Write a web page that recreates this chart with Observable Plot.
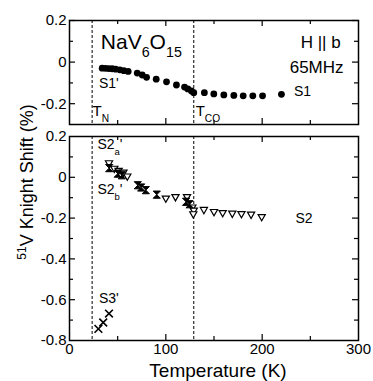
<!DOCTYPE html>
<html><head><meta charset="utf-8">
<script src="https://cdn.jsdelivr.net/npm/d3@7"></script>
<script src="https://cdn.jsdelivr.net/npm/@observablehq/plot@0.6"></script>
<style>
body{margin:0;background:#fff;}
#wrap{position:relative;width:373px;height:381px;font-family:"Liberation Sans",Arial,sans-serif;}
#topPanel{position:absolute;left:0;top:0;}
#botPanel{position:absolute;left:0;top:126px;}
#ylab{position:absolute;left:0;top:0;pointer-events:none;}
</style></head>
<body>
<div id="wrap"><div id="topPanel"></div><div id="botPanel"></div>
<svg id="ylab" width="373" height="381"><text transform="translate(33,182) rotate(-90)" text-anchor="middle" font-size="18" font-family="Liberation Sans, Arial, sans-serif" fill="#000"><tspan font-size="12" baseline-shift="super">51</tspan>V Knight Shift (%)</text></svg>
</div>
<script>
// ---- data ----
const s1T = [33.9, 37.4, 40.8, 44.3, 47.8, 52.2, 56.4, 60.9, 70.3, 75.5, 80, 90, 100.7, 111, 119.4, 122.8, 126.6, 129, 140, 149.8, 160.2, 170.6, 180.3, 190.3, 200.4, 220];
const s1V = [-0.029, -0.030, -0.031, -0.032, -0.034, -0.037, -0.041, -0.045, -0.053, -0.062, -0.073, -0.082, -0.095, -0.110, -0.120, -0.129, -0.139, -0.147, -0.147, -0.153, -0.158, -0.160, -0.162, -0.162, -0.162, -0.155];
const s2aT = [41, 46.5, 51, 56, 60, 100, 110, 122, 127.5, 129, 128.5, 139.5, 150, 159, 169, 178.5, 188.5, 199.5];
const s2aV = [0.067, 0.040, 0.030, 0.021, 0.002, -0.106, -0.099, -0.099, -0.150, -0.165, -0.183, -0.162, -0.172, -0.177, -0.180, -0.182, -0.185, -0.197];
const s2bT = [41.2, 50.1, 54.3, 70.9, 74.4, 79.2, 90.6, 121, 124.6];
const s2bV = [0.045, 0.018, 0.010, -0.039, -0.050, -0.063, -0.085, -0.120, -0.132];
const s3T = [30, 35, 41];
const s3V = [-0.743, -0.712, -0.668];
const transitions = [23.5, 129];
const xLabels = [0, 100, 200, 300];
const xMajor = [100, 200];
const xMinor = [50, 150, 250];
const topYLabels = [0.2, 0, -0.2];
const topYMajor = [0.2, 0, -0.2];
const topYMinor = [0.1, -0.1];
const botYLabels = [0.2, 0, -0.2, -0.4, -0.6, -0.8];
const botYMajor = [0, -0.2, -0.4, -0.6];
const botYMinor = [0.1, -0.1, -0.3, -0.5, -0.7];

(function () {
const s1 = s1T.map((t, i) => ({t, v: s1V[i]}));
const s2a = s2aT.map((t, i) => ({t, v: s2aV[i]}));
const s2b = s2bT.map((t, i) => ({t, v: s2bV[i]}));
const s3 = s3T.map((t, i) => ({t, v: s3V[i]}));

const triDown = {draw(ctx, size){ const s = Math.sqrt(size/Math.PI); ctx.moveTo(-s,-0.8*s); ctx.lineTo(s,-0.8*s); ctx.lineTo(0,0.95*s); ctx.closePath(); }};
const hourglass = {draw(ctx, size){ const s = Math.sqrt(size/Math.PI); ctx.moveTo(-s,-s); ctx.lineTo(s,-s); ctx.lineTo(-s,s); ctx.lineTo(s,s); ctx.closePath(); }};

const W = 373, ML = 69, MR = 15;
const IW = W - ML - MR;

function frameTicks(ih, yMajor, yMinor, xMaj, xMin) {
  return [
    Plot.tickX(xMaj, {x: d => d, insetTop: ih - 6, strokeWidth: 1.2}),
    Plot.tickX(xMaj, {x: d => d, insetBottom: ih - 6, strokeWidth: 1.2}),
    Plot.tickX(xMin, {x: d => d, insetTop: ih - 4, strokeWidth: 1.2}),
    Plot.tickX(xMin, {x: d => d, insetBottom: ih - 4, strokeWidth: 1.2}),
    Plot.tickY(yMajor, {y: d => d, insetRight: IW - 6, strokeWidth: 1.2}),
    Plot.tickY(yMajor, {y: d => d, insetLeft: IW - 6, strokeWidth: 1.2}),
    Plot.tickY(yMinor, {y: d => d, insetRight: IW - 4, strokeWidth: 1.2}),
    Plot.tickY(yMinor, {y: d => d, insetLeft: IW - 4, strokeWidth: 1.2})
  ];
}

const style = {fontFamily: "Liberation Sans, Arial, sans-serif", fontSize: "15px", color: "#000", background: "transparent"};

// ---- top panel ----
const topH = 126, topMT = 20, topMB = 2;
const topPlot = Plot.plot({
  width: W, height: topH, marginLeft: ML, marginRight: MR, marginTop: topMT, marginBottom: topMB,
  x: {domain: [0, 300], axis: null},
  y: {domain: [-0.3, 0.2], axis: null},
  style,
  marks: [
    Plot.ruleX(transitions, {x: d => d, strokeDasharray: "3,2", strokeWidth: 1}),
    ...frameTicks(topH - topMT - topMB, topYMajor, topYMinor, xMajor, xMinor),
    Plot.axisY({ticks: topYLabels, tickSize: 0, tickPadding: 3, tickFormat: d => String(d), fontSize: 15, label: null}),
    Plot.dot(s1, {x: "t", y: "v", r: 3.4, fill: "#000", stroke: "none"}),
    Plot.text(["NaV6O15"], {x: 32.5, y: 0.062, text: d => d, textAnchor: "start", lineAnchor: "bottom", fontSize: 21}),
    Plot.text(["H || b"], {x: 281.5, y: 0.066, text: d => d, textAnchor: "end", lineAnchor: "bottom", fontSize: 17}),
    Plot.text(["65MHz"], {x: 284.5, y: -0.052, text: d => d, textAnchor: "end", lineAnchor: "bottom", fontSize: 17}),
    Plot.text(["S1'"], {x: 30.5, y: -0.126, text: d => d, textAnchor: "start", lineAnchor: "bottom", fontSize: 14}),
    Plot.text(["S1"], {x: 233, y: -0.165, text: d => d, textAnchor: "start", lineAnchor: "bottom", fontSize: 14}),
    Plot.text(["TN"], {x: 24, y: -0.258, text: d => d, textAnchor: "start", lineAnchor: "bottom", fontSize: 15}),
    Plot.text(["TCO"], {x: 131, y: -0.258, text: d => d, textAnchor: "start", lineAnchor: "bottom", fontSize: 15}),
    Plot.frame({strokeWidth: 1.5})
  ]
});

// ---- bottom panel ----
const botH = 255, botMT = 10, botMB = 41;
const botPlot = Plot.plot({
  width: W, height: botH, marginLeft: ML, marginRight: MR, marginTop: botMT, marginBottom: botMB,
  x: {domain: [0, 300], axis: null},
  y: {domain: [-0.8, 0.2], axis: null},
  style,
  marks: [
    Plot.ruleX(transitions, {x: d => d, strokeDasharray: "3,2", strokeWidth: 1}),
    ...frameTicks(botH - botMT - botMB, botYMajor, botYMinor, xMajor, xMinor),
    Plot.axisY({ticks: botYLabels, tickSize: 0, tickPadding: 3, tickFormat: d => String(d), fontSize: 15, label: null}),
    Plot.axisX({ticks: xLabels, tickSize: 0, tickPadding: 3, tickFormat: d => String(d), fontSize: 15, label: null}),
    Plot.dot(s2a, {x: "t", y: "v", r: 3.6, symbol: triDown, fill: "#fff", stroke: "#000", strokeWidth: 1.2}),
    Plot.dot(s2b, {x: "t", y: "v", r: 3.6, symbol: hourglass, fill: "#000", stroke: "#000", strokeWidth: 1}),
    Plot.dot(s3, {x: "t", y: "v", r: 3.6, symbol: "times", stroke: "#000", strokeWidth: 1.6}),
    Plot.text(["S2a'"], {x: 29, y: 0.141, text: d => d, textAnchor: "start", lineAnchor: "bottom", fontSize: 14}),
    Plot.text(["S2b'"], {x: 29, y: -0.084, text: d => d, textAnchor: "start", lineAnchor: "bottom", fontSize: 14}),
    Plot.text(["S2"], {x: 234.5, y: -0.226, text: d => d, textAnchor: "start", lineAnchor: "bottom", fontSize: 14}),
    Plot.text(["S3'"], {x: 30.5, y: -0.614, text: d => d, textAnchor: "start", lineAnchor: "bottom", fontSize: 14}),
    Plot.text(["Temperature (K)"], {frameAnchor: "bottom", dy: 36, dx: 4, text: d => d, lineAnchor: "bottom", fontSize: 19}),
    Plot.frame({strokeWidth: 1.5})
  ]
});

// ---- rich text (subscripts) ----
const NS = "http://www.w3.org/2000/svg";
const rich = {
  "NaV6O15": [["NaV"], ["6", "sub"], ["O"], ["15", "sub"]],
  "TN": [["T"], ["N", "sub"]],
  "TCO": [["T"], ["CO", "sub"]],
  "S2a'": [["S2"], ["a", "sub"], ["'"]],
  "S2b'": [["S2"], ["b", "sub"], ["'"]]
};
function richify(svg) {
  svg.querySelectorAll("text").forEach(t => {
    const parts = rich[t.textContent];
    if (!parts) return;
    t.textContent = "";
    for (const [str, kind] of parts) {
      const ts = document.createElementNS(NS, "tspan");
      ts.textContent = str;
      if (kind === "sub") { ts.setAttribute("font-size", "68%"); ts.setAttribute("baseline-shift", "sub"); }
      t.appendChild(ts);
    }
  });
}
richify(topPlot); richify(botPlot);
document.getElementById("topPanel").appendChild(topPlot);
document.getElementById("botPanel").appendChild(botPlot);
})();
</script>
</body></html>
